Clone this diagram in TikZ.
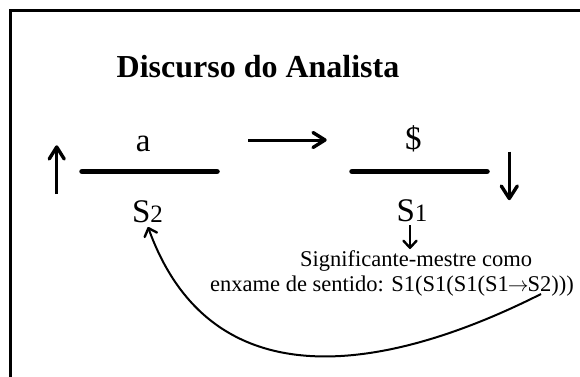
\documentclass[tikz,border=0pt]{standalone}
\usepackage{fontspec}
\setmainfont{Liberation Serif}
\usetikzlibrary{arrows.meta,calc}
\begin{document}
\begin{tikzpicture}[x=1pt,y=1pt,
  big/.style={font=\fontsize{33}{33}\selectfont, inner sep=0pt, anchor=base},
  lbl/.style={font=\fontsize{22.5}{25}\selectfont, inner sep=0pt},
  bar/.style={line width=5.5pt, line cap=round},
  shaft/.style={line width=3pt},
  head/.style={line width=3.4pt, line cap=round, line join=round},
  thinarrow/.style={line width=2pt, -{Straight Barb[length=7pt,width=13pt,line width=2.4pt,round]}}
]
\useasboundingbox (0,0) rectangle (580,376);
\fill[white] (0,0) rectangle (580,376);
% frame
\draw[line width=3pt] (10.5,-2) -- (10.5,366) -- (582,366);
% title
\node[inner sep=0pt, anchor=base, font=\bfseries\fontsize{32}{32}\selectfont] (title) at (258,299) {Discurso do Analista};
% left fraction
\node[big] (a) at (143.3,225) {a};
\coordinate (lb1) at (82,204.5);
\coordinate (lb2) at (217,204.5);
\draw[bar] (lb1) -- (lb2);
\node[big] (s2) at (147.5,154) {S{\fontsize{25}{25}\selectfont 2}};
% right fraction
\node[big] (dollar) at (413.3,227) {\$};
\coordinate (rb1) at (352,204.5);
\coordinate (rb2) at (487,204.5);
\draw[bar] (rb1) -- (rb2);
\node[big] (s1) at (412,155) {S{\fontsize{25}{25}\selectfont 1}};
% up arrow
\coordinate (up1) at (56.7,182);
\coordinate (up2) at (56.7,229);
\draw[shaft] (up1) -- (up2);
\draw[head] ($(up2)+(-7.5,-12)$) -- (up2) -- ($(up2)+(7.5,-12)$);
% middle arrow
\coordinate (m1) at (248,236);
\coordinate (m2) at (325,236);
\draw[shaft] (m1) -- (m2);
\draw[head] ($(m2)+(-12,7.5)$) -- (m2) -- ($(m2)+(-12,-7.5)$);
% down arrow
\coordinate (d1) at (509.3,224.5);
\coordinate (d2) at (509.3,177.5);
\draw[shaft] (d1) -- (d2);
\draw[head] ($(d2)+(-8,12.5)$) -- (d2) -- ($(d2)+(8,12.5)$);
% text
\node[lbl, align=left, anchor=base west] (txt) at (210,85)
  {\hspace*{90pt}Significante-mestre como\\enxame de sentido: S1(S1(S1(S1\kern-1pt$\rightarrow$\kern-1ptS2)))};
\coordinate (sa1) at (410,151);
\coordinate (sa2) at (410,127);
\draw[thinarrow] (sa1) -- (sa2);
% curved arrow
\coordinate (c1) at (541,82);
\coordinate (c2) at (148,149);
\draw[thinarrow] (c1) .. controls (430,26) and (220,-50) .. (c2);
\end{tikzpicture}
\end{document}
